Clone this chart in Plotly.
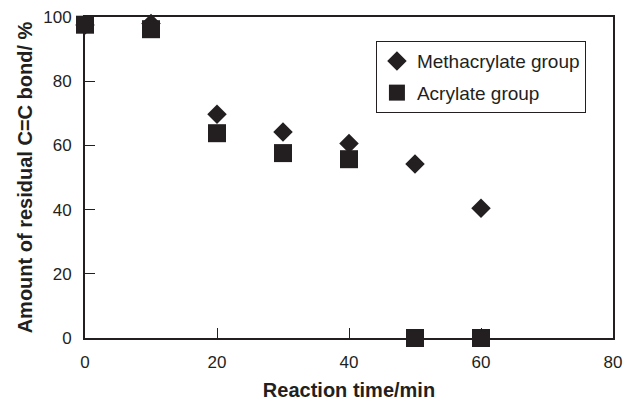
import plotly.graph_objects as go

time_meth = [0, 10, 20, 30, 40, 50, 60]
meth_values = [97.5, 98, 69.7, 64.2, 60.6, 54.2, 40.4]
time_acr = [0, 10, 20, 30, 40, 50, 60]
acr_values = [97.6, 96.2, 63.8, 57.6, 55.7, 0, 0]
x_ticks = [0, 20, 40, 60, 80]
y_ticks = [0, 20, 40, 60, 80, 100]

ink = "#231f20"
fig = go.Figure()
fig.add_trace(go.Scatter(x=time_meth, y=meth_values, mode="markers", name="Methacrylate group",
                         legendgroup="m",
                         marker=dict(symbol="diamond", size=15, color=ink), cliponaxis=False))
fig.add_trace(go.Scatter(x=time_acr, y=acr_values, mode="markers", name="Acrylate group",
                         legendgroup="a",
                         marker=dict(symbol="square", size=18, color=ink), cliponaxis=False))

fig.update_layout(
    width=625, height=401,
    margin=dict(l=85, r=12, t=17, b=63),
    paper_bgcolor="white", plot_bgcolor="white",
    font=dict(family="Liberation Sans, Arial", color=ink, size=17),
    showlegend=True,
    legend=dict(x=0.551, y=0.925, xanchor="left", yanchor="top",
                bordercolor=ink, borderwidth=1, bgcolor="white",
                font=dict(size=19), itemsizing="trace", tracegroupgap=4,
                traceorder="grouped"),
)
fig.update_xaxes(range=[0, 80], tickvals=x_ticks, ticks="inside", ticklen=10, tickcolor=ink,
                 showline=True, linecolor=ink, linewidth=2, mirror=True, showgrid=False, zeroline=False,
                 automargin=False,
                 title=dict(text="<b>Reaction time/min</b>", font=dict(size=20), standoff=12),
                 tickfont=dict(size=17), ticklabelstandoff=8)
fig.update_yaxes(range=[0, 100], tickvals=y_ticks, ticks="inside", ticklen=10, tickcolor=ink,
                 showline=True, linecolor=ink, linewidth=2, mirror=True, showgrid=False, zeroline=False,
                 automargin=False,
                 title=dict(text="<b>Amount of residual C=C bond/ %</b>", font=dict(size=20), standoff=5),
                 tickfont=dict(size=17), ticklabelstandoff=8)
fig.write_html("out.html")
